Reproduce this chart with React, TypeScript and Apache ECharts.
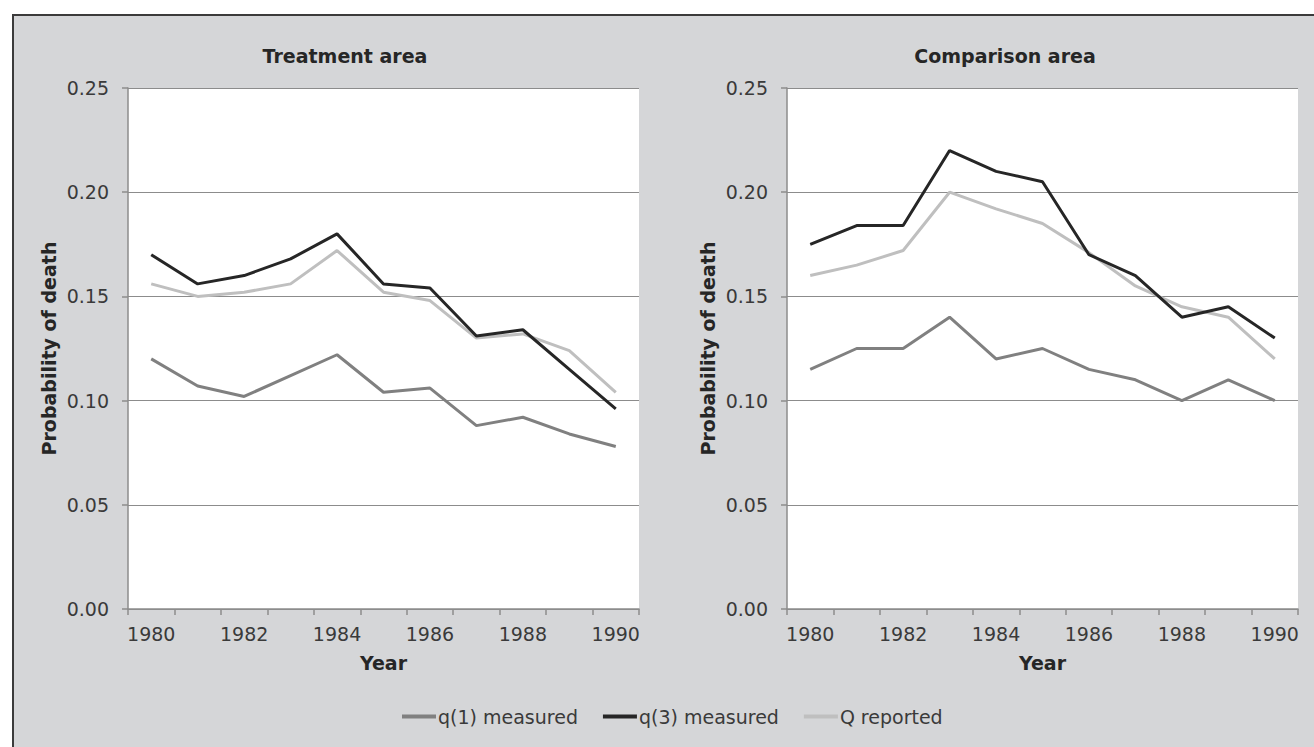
import React, { useEffect, useRef } from "react";
import * as echarts from "echarts";

// Years on the category axis (one point per year)
const years = ["1980", "1981", "1982", "1983", "1984", "1985", "1986", "1987", "1988", "1989", "1990"];

// Treatment area
const treatQ1 = [0.12, 0.107, 0.102, 0.112, 0.122, 0.104, 0.106, 0.088, 0.092, 0.084, 0.078];
const treatQ3 = [0.17, 0.156, 0.16, 0.168, 0.18, 0.156, 0.154, 0.131, 0.134, 0.115, 0.096];
const treatQrep = [0.156, 0.15, 0.152, 0.156, 0.172, 0.152, 0.148, 0.13, 0.132, 0.124, 0.104];

// Comparison area
const compQ1 = [0.115, 0.125, 0.125, 0.14, 0.12, 0.125, 0.115, 0.11, 0.1, 0.11, 0.1];
const compQ3 = [0.175, 0.184, 0.184, 0.22, 0.21, 0.205, 0.17, 0.16, 0.14, 0.145, 0.13];
const compQrep = [0.16, 0.165, 0.172, 0.2, 0.192, 0.185, 0.171, 0.155, 0.145, 0.14, 0.12];

const seriesNames = ["q(1) measured", "q(3) measured", "Q reported"];
const seriesColors = ["#808080", "#262626", "#bfbfbf"];
const panelTitles = ["Treatment area", "Comparison area"];

const FONT = "'DejaVu Sans', Verdana, sans-serif";
const AXIS_GRAY = "#8c8c8c";
const LABEL_COLOR = "#3a3a3a";
const TITLE_COLOR = "#262626";

export default function App() {
  const ref = useRef<HTMLDivElement>(null);

  useEffect(() => {
    if (!ref.current) return;
    const chart = echarts.init(ref.current, undefined, { renderer: "svg" });

    const grids = [
      { left: 128, top: 88, width: 511, height: 521 },
      { left: 787, top: 88, width: 511, height: 521 },
    ];

    const xAxis = grids.map((_, i) => ({
      type: "category",
      gridIndex: i,
      data: years,
      boundaryGap: true,
      axisLine: { show: true, lineStyle: { color: AXIS_GRAY, width: 1.5 } },
      axisTick: { show: true, interval: 0, length: 6, lineStyle: { color: AXIS_GRAY, width: 1.5 } },
      axisLabel: { interval: 1, fontSize: 19, color: LABEL_COLOR, fontFamily: FONT, margin: 15 },
      name: "Year",
      nameLocation: "middle",
      nameGap: 44,
      nameTextStyle: { fontSize: 19, fontWeight: "bold", color: TITLE_COLOR, fontFamily: FONT },
    }));

    const yAxis = grids.map((_, i) => ({
      type: "value",
      gridIndex: i,
      min: 0,
      max: 0.25,
      interval: 0.05,
      axisLine: { show: true, lineStyle: { color: AXIS_GRAY, width: 1.5 } },
      axisTick: { show: true, length: 6, lineStyle: { color: AXIS_GRAY, width: 1.5 } },
      axisLabel: {
        formatter: (v: number) => v.toFixed(2),
        fontSize: 19,
        color: LABEL_COLOR,
        fontFamily: FONT,
        margin: 19,
      },
      splitLine: { show: true, lineStyle: { color: AXIS_GRAY, width: 1.2 } },
      name: "Probability of death",
      nameLocation: "middle",
      nameGap: 70,
      nameTextStyle: { fontSize: 19, fontWeight: "bold", color: TITLE_COLOR, fontFamily: FONT },
    }));

    const panelData = [
      [treatQ1, treatQ3, treatQrep],
      [compQ1, compQ3, compQrep],
    ];

    const series: any[] = [];
    panelData.forEach((panel, gi) => {
      panel.forEach((values, si) => {
        series.push({
          type: "line",
          name: seriesNames[si],
          xAxisIndex: gi,
          yAxisIndex: gi,
          data: values,
          symbol: "none",
          lineStyle: { color: seriesColors[si], width: 3 },
          itemStyle: { color: seriesColors[si] },
          z: si === 1 ? 4 : 3,
        });
      });
    });

    chart.setOption({
      animation: false,
      backgroundColor: "transparent",
      textStyle: { fontFamily: FONT },
      title: panelTitles.map((t, i) => ({
        text: t,
        left: i === 0 ? 340 : 1000,
        top: 41,
        textAlign: "center",
        textStyle: { fontSize: 19, fontWeight: "bold", color: TITLE_COLOR, fontFamily: FONT },
      })),
      grid: grids.map((g) => ({
        ...g,
        show: true,
        backgroundColor: "#ffffff",
        borderWidth: 0,
        containLabel: false,
      })),
      xAxis,
      yAxis,
      legend: {
        data: seriesNames,
        left: 397,
        top: 702,
        icon: "rect",
        itemWidth: 34,
        itemHeight: 4,
        itemGap: 25,
        textStyle: { fontSize: 19, color: LABEL_COLOR, fontFamily: FONT, padding: [0, 0, 0, -3] },
      },
      series,
    });

    return () => chart.dispose();
  }, []);

  return (
    <div style={{ position: "fixed", left: 0, top: 0, width: 1314, height: 747, background: "#ffffff" }}>
      <div
        style={{
          position: "absolute",
          left: 12,
          top: 14,
          right: 0,
          bottom: 0,
          background: "#d5d6d8",
          borderTop: "2px solid #3b3b3b",
          borderLeft: "2px solid #3b3b3b",
        }}
      />
      <div ref={ref} style={{ position: "absolute", left: 0, top: 0, width: 1314, height: 747 }} />
    </div>
  );
}
